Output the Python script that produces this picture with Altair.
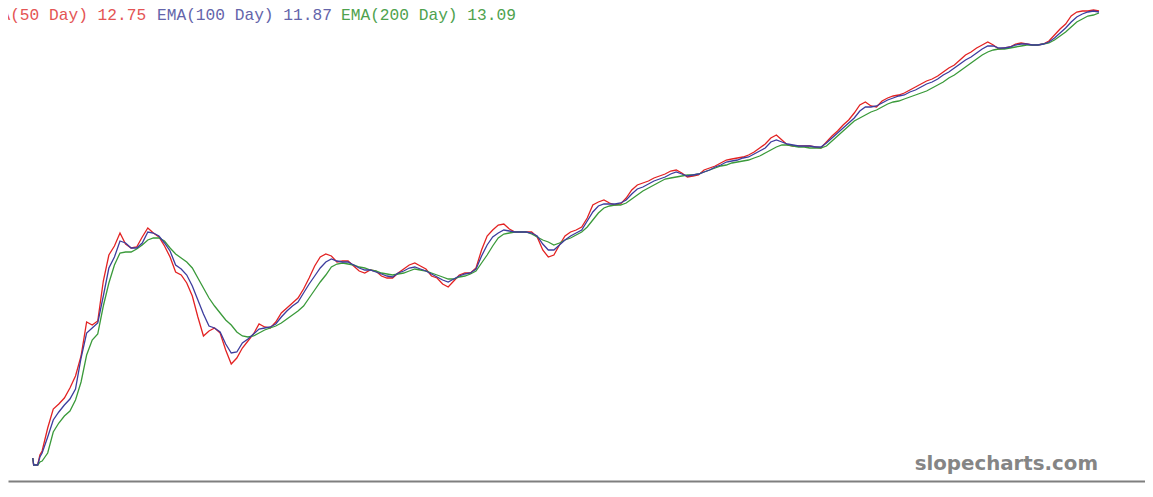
import altair as alt
import pandas as pd

# ---------------- data ----------------
START_T = [1997.04, 1997.06, 1997.15, 1997.20, 1997.25, 1997.375, 1997.5, 1997.625, 1997.75, 1997.875]
GRID_YEARS = list(range(1998, 2021))
END_T = [2021.0]
dates = START_T + [y + k / 8 for y in GRID_YEARS for k in range(8)] + END_T

ema50 = [
    23, 16, 16, 26, 30, 53, 72, 77, 83, 93,
    105, 125, 159, 156, 160, 200, 226, 235,
    248, 237, 233, 234, 244, 253, 248, 244,
    235, 224, 209, 206, 198, 185, 164, 145,
    150, 153, 148, 131, 117, 123, 133, 140,
    147, 157, 154, 153, 159, 168, 173, 178,
    183, 192, 203, 215, 224, 227, 225, 219,
    220, 220, 215, 210, 208, 211, 210, 205,
    203, 203, 208, 212, 216, 218, 215, 212,
    205, 203, 197, 194, 200, 206, 208, 208,
    213, 231, 245, 251, 256, 257, 252, 249,
    249, 249, 249, 244, 231, 224, 226, 236,
    245, 249, 251, 254, 263, 276, 279, 281,
    278, 276, 277, 283, 291, 296, 298, 300,
    303, 305, 307, 310, 311, 308, 304, 305,
    306, 311, 313, 315, 318, 321, 322, 323,
    324, 326, 329, 333, 337, 343, 346, 341,
    336, 335, 335, 335, 335, 334, 333, 339,
    345, 350, 356, 361, 368, 376, 379, 375,
    374, 380, 383, 385, 386, 388, 391, 394,
    397, 400, 402, 405, 409, 413, 416, 421,
    426, 429, 433, 436, 439, 436, 432, 433,
    434, 437, 438, 437, 436, 436, 437, 440,
    446, 452, 457, 465, 469, 470, 470, 471,
    470,
]
ema100 = [
    23, 16, 16, 24, 28, 44, 61, 69, 76, 82,
    92, 123, 148, 153, 158, 185, 213, 224,
    240, 238, 233, 233, 238, 249, 248, 245,
    238, 230, 216, 212, 206, 195, 181, 167,
    155, 153, 149, 137, 128, 129, 138, 142,
    147, 152, 153, 154, 157, 164, 170, 175,
    179, 188, 197, 205, 213, 219, 222, 220,
    219, 219, 216, 213, 211, 211, 209, 207,
    205, 204, 208, 210, 213, 214, 212, 210,
    207, 204, 201, 199, 202, 205, 207, 208,
    212, 225, 236, 244, 248, 251, 250, 249,
    249, 249, 248, 245, 237, 231, 231, 236,
    241, 245, 248, 251, 260, 269, 275, 277,
    277, 277, 278, 281, 287, 292, 294, 297,
    300, 302, 304, 307, 309, 307, 305, 306,
    307, 309, 311, 314, 316, 319, 320, 321,
    323, 324, 327, 330, 333, 339, 341, 339,
    337, 336, 335, 335, 335, 334, 334, 338,
    343, 348, 353, 358, 363, 370, 374, 374,
    375, 378, 381, 383, 385, 386, 389, 391,
    394, 397, 399, 402, 406, 409, 413, 417,
    421, 424, 428, 432, 435, 435, 433, 433,
    434, 436, 437, 437, 436, 436, 437, 439,
    443, 448, 453, 459, 464, 467, 469, 470,
    469,
]
ema200 = [
    23, 16, 16, 19, 20, 28, 49, 58, 65, 70,
    81, 99, 126, 141, 147, 175, 198, 216,
    228, 229, 229, 232, 236, 241, 243, 243,
    240, 233, 227, 223, 219, 213, 203, 193,
    183, 175, 168, 161, 156, 149, 145, 144,
    145, 148, 151, 153, 155, 158, 162, 166,
    170, 175, 183, 191, 199, 206, 214, 217,
    218, 217, 216, 214, 213, 211, 210, 208,
    207, 206, 207, 208, 210, 212, 211, 210,
    208, 206, 204, 202, 202, 204, 205, 207,
    210, 218, 226, 235, 243, 247, 248, 249,
    249, 249, 247, 244, 241, 239, 236, 238,
    241, 243, 246, 249, 254, 261, 268, 273,
    275, 276, 276, 278, 282, 286, 290, 293,
    296, 299, 302, 303, 304, 305, 306, 306,
    307, 309, 311, 313, 315, 316, 318, 319,
    320, 321, 323, 325, 328, 331, 334, 336,
    336, 335, 334, 334, 333, 333, 333, 335,
    340, 345, 350, 355, 360, 363, 366, 369,
    371, 374, 377, 379, 380, 382, 384, 386,
    388, 390, 393, 396, 399, 403, 406, 410,
    414, 418, 422, 426, 429, 431, 432, 432,
    433, 434, 435, 436, 436, 436, 437, 438,
    441, 445, 449, 454, 459, 462, 465, 466,
    468,
]

series_names = ["EMA(50 Day)", "EMA(100 Day)", "EMA(200 Day)"]
tick_years = [1997, 1999, 2001, 2003, 2005, 2007, 2009, 2011, 2013, 2015, 2017, 2019]
legend_labels = ["EMA(50 Day) 12.75", "EMA(100 Day) 11.87", "EMA(200 Day) 13.09"]
watermark = "slopecharts.com"

line_colors = {"EMA(50 Day)": "#e32222", "EMA(100 Day)": "#3d3d9e", "EMA(200 Day)": "#3a9a3a"}
text_colors = ["#e45454", "#6464aa", "#4ea24e"]

frames = []
for name, vals in zip(series_names, [ema50, ema100, ema200]):
    frames.append(pd.DataFrame({"year": dates, "value": vals, "series": name}))
df = pd.concat(frames, ignore_index=True)

W, H = 1137, 473

x_enc = alt.X(
    "year:Q",
    scale=alt.Scale(domain=[1996.4831, 2022.0337], nice=False, zero=False),
    axis=alt.Axis(
        values=tick_years, format="d", ticks=False, grid=False, title=None,
        labelColor="#2a8a3a", labelFont="DejaVu Sans", labelFontSize=10,
        labelPadding=13, labelFlush=False, labelOverlap=False,
        domainColor="#7f7f7f", domainWidth=2,
    ),
)
y_enc = alt.Y("value:Q", scale=alt.Scale(domain=[0, 473], nice=False, zero=False), axis=None)

base = alt.Chart(df)
layers = []
for name in ["EMA(50 Day)", "EMA(200 Day)", "EMA(100 Day)"]:
    layers.append(
        base.transform_filter(alt.datum.series == name)
        .mark_line(color=line_colors[name], strokeWidth=1.3)
        .encode(x=x_enc, y=y_enc)
    )

legend_x = [-27, 149, 333]
for lbl, col, xp in zip(legend_labels, text_colors, legend_x):
    layers.append(
        alt.Chart(pd.DataFrame({"label": [lbl]}))
        .mark_text(align="left", baseline="alphabetic", font="Liberation Mono",
                   fontSize=16.2, color=col)
        .encode(x=alt.value(xp), y=alt.value(12), text="label:N")
    )

layers.append(
    alt.Chart(pd.DataFrame({"label": [watermark]}))
    .mark_text(align="right", baseline="alphabetic", font="DejaVu Sans",
               fontWeight="bold", fontSize=19.8, color="#858585")
    .encode(x=alt.value(1090), y=alt.value(462), text="label:N")
)

chart = (
    alt.layer(*layers)
    .properties(
        width=W, height=H,
        autosize=alt.AutoSizeParams(type="none"),
        padding={"left": 0, "top": 0, "right": 0, "bottom": 2},
        background="white",
    )
    .configure_view(stroke=None)
)

chart.save("out.html", embed_options={"renderer": "svg", "actions": False})
